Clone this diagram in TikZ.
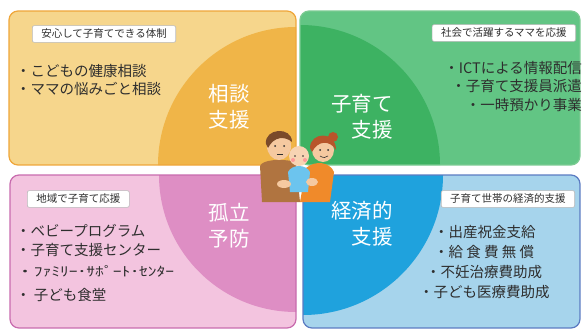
\documentclass[tikz,border=0pt]{standalone}
\usepackage{fontspec}
\setmainfont{Noto Sans CJK JP}
\newfontfamily\jp{Noto Sans CJK JP}
\definecolor{orLight}{HTML}{F6D68C}
\definecolor{orDark}{HTML}{F0B548}
\definecolor{orEdge}{HTML}{EFA63A}
\definecolor{grLight}{HTML}{62C584}
\definecolor{grDark}{HTML}{3DB262}
\definecolor{grEdge}{HTML}{7BCB92}
\definecolor{pkLight}{HTML}{F3C4DF}
\definecolor{pkDark}{HTML}{DE8EC4}
\definecolor{pkEdge}{HTML}{C86BAE}
\definecolor{blLight}{HTML}{A6D4EC}
\definecolor{blDark}{HTML}{1FA2DD}
\definecolor{blEdge}{HTML}{5B7BC2}
\definecolor{ink}{HTML}{2E2E2E}
\definecolor{skin}{HTML}{F5C9A0}
\definecolor{hairM}{HTML}{7A4A2A}
\definecolor{shirtM}{HTML}{B07440}
\definecolor{hairW}{HTML}{B8552A}
\definecolor{shirtW}{HTML}{F08A2A}
\definecolor{babyBlue}{HTML}{6CC4EE}
\tikzset{
  panel/.style={rounded corners=9pt, line width=1.2pt},
  tagbox/.style={draw=gray!55, fill=white, rounded corners=2pt, line width=0.6pt,
    font=\jp\fontsize{10.5}{12}\selectfont, text=ink, inner xsep=9pt, inner ysep=3.5pt},
  item/.style={font=\jp\fontsize{14.5}{17}\selectfont, text=ink, inner sep=0pt},
  big/.style={font=\jp\fontsize{20.5}{26}\selectfont, text=white, inner sep=0pt, align=left},
}
\begin{document}
\begin{tikzpicture}[x=1pt,y=-1pt]
\useasboundingbox (0,0) rectangle (583,329);
\fill[white] (0,0) rectangle (583,329);

% upper left panel
\begin{scope}
  \clip[rounded corners=9pt] (9,11) rectangle (296,165);
  \fill[orLight] (9,11) rectangle (296,165);
  \fill[orDark] (296,165) circle[radius=138];
\end{scope}
\draw[panel, draw=orEdge] (9,11) rectangle (296,165);

% upper right panel
\begin{scope}
  \clip[rounded corners=9pt] (300,11) rectangle (580,165);
  \fill[grLight] (300,11) rectangle (580,165);
  \fill[grDark] (300,165) circle[radius=140];
\end{scope}
\draw[panel, draw=grEdge] (300,11) rectangle (580,165);

% lower left panel
\begin{scope}
  \clip[rounded corners=9pt] (10,175) rectangle (296,328);
  \fill[pkLight] (10,175) rectangle (296,328);
  \fill[pkDark] (296,175) circle[radius=137];
\end{scope}
\draw[panel, draw=pkEdge] (10,175) rectangle (296,328);

% lower right panel
\begin{scope}
  \clip[rounded corners=9pt] (303,175) rectangle (580,328);
  \fill[blLight] (303,175) rectangle (580,328);
  \fill[blDark] (303,175) circle[radius=140];
\end{scope}
\draw[panel, draw=blEdge] (303,175) rectangle (580,328);

% headings
\node[tagbox, anchor=west] (tagA) at (32,34) {安心して子育てできる体制};
\node[tagbox, anchor=east] (tagB) at (576,33) {社会で活躍するママを応援};
\node[tagbox, anchor=west] (tagC) at (27,199) {地域で子育て応援};
\node[tagbox, anchor=east] (tagD) at (575,199) {子育て世帯の経済的支援};

% upper left items
\node[item, anchor=west] (a1) at (16,71) {・こどもの健康相談};
\node[item, anchor=west] (a2) at (16,89) {・ママの悩みごと相談};
\node[big] (ta) at (229,107) {相談\\支援};

% upper right items
\node[item, anchor=east] (b1) at (582,68) {・ICTによる情報配信};
\node[item, anchor=east] (b2) at (582,86) {・子育て支援員派遣};
\node[item, anchor=east] (b3) at (582,105) {・一時預かり事業};
\node[big, align=right] (tb) at (362,117) {子育て\\支援};

% lower left items
\node[item, anchor=west] (c1) at (16,231) {・ベビープログラム};
\node[item, anchor=west] (c2) at (16,250) {・子育て支援センター};
\node[item, anchor=west, xscale=1.35, font=\jp\fontsize{13}{15}\selectfont] (c3) at (16,271) {・ﾌｧﾐﾘｰ･ｻﾎﾟｰﾄ･ｾﾝﾀｰ};
\node[item, anchor=west] (c4) at (16,295) {・ 子ども食堂};
\node[big] (tc) at (229,226) {孤立\\予防};

% lower right items
\node[item, anchor=west] (d1) at (434,232) {・出産祝金支給};
\node[item, anchor=west] (d2) at (434,252) {・給 食 費 無 償};
\node[item, anchor=west] (d3) at (426,272) {・不妊治療費助成};
\node[item, anchor=west] (d4) at (419,292) {・子ども医療費助成};
\node[big, align=right] (td) at (362,224) {経済的\\支援};

% family in the middle
\begin{scope}
  % man
  \fill[shirtM] (260,166) .. controls (262,160) and (280,158) .. (296,162)
     -- (300,202) -- (262,202) -- cycle;
  \fill[skin] (279,146) ellipse[x radius=12, y radius=14];
  \fill[hairM] (266,144) .. controls (264,128) and (292,126) .. (292,142)
     .. controls (285,136) and (274,136) .. (268,148) -- cycle;
  \fill[ink] (275,146) circle[radius=1];
  \fill[ink] (284,146) circle[radius=1];
  \draw[ink, line width=0.6pt] (277,154) -- (283,154);
  % woman
  \fill[shirtW] (306,168) .. controls (315,160) and (330,162) .. (334,172)
     -- (330,202) -- (300,202) -- cycle;
  \fill[hairW] (333,137) circle[radius=5];
  \fill[skin] (323,150) ellipse[x radius=11, y radius=12];
  \fill[hairW] (310,148) .. controls (310,132) and (336,130) .. (336,150)
     .. controls (330,140) and (318,140) .. (312,152) -- cycle;
  \fill[ink] (320,150) circle[radius=1];
  \fill[ink] (328,150) circle[radius=1];
  \draw[ink, line width=0.6pt] (320,156) .. controls (323,158) and (326,158) .. (328,156);
  % baby
  \fill[babyBlue] (288,172) .. controls (292,164) and (306,164) .. (310,172)
     -- (308,192) -- (290,192) -- cycle;
  \fill[skin!80!white] (299,156) circle[radius=10];
  \fill[ink] (295,156) circle[radius=0.9];
  \fill[ink] (303,156) circle[radius=0.9];
  \fill[red!40] (293,160) circle[radius=2];
  \fill[red!40] (305,160) circle[radius=2];
  % arms
  \fill[skin] (284,184) ellipse[x radius=7, y radius=4];
  \fill[skin] (312,182) ellipse[x radius=6, y radius=4];
\end{scope}
\end{tikzpicture}
\end{document}
